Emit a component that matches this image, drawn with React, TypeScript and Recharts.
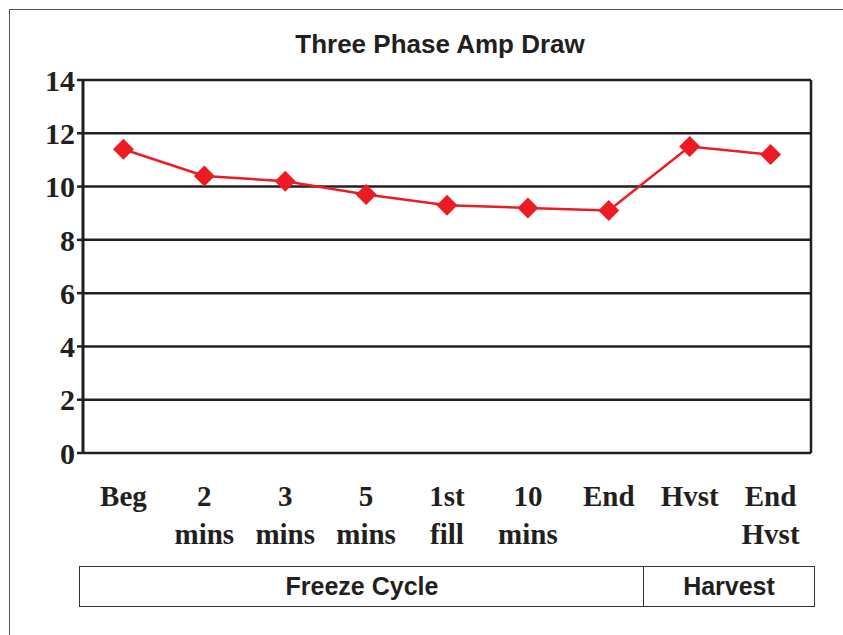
import React from 'react';
import { LineChart, Line, XAxis, YAxis, CartesianGrid } from 'recharts';

const categories = ['Beg', '2 mins', '3 mins', '5 mins', '1st fill', '10 mins', 'End', 'Hvst', 'End Hvst'];
const labelLines: string[][] = [['Beg'], ['2', 'mins'], ['3', 'mins'], ['5', 'mins'], ['1st', 'fill'], ['10', 'mins'], ['End'], ['Hvst'], ['End', 'Hvst']];
const amps = [11.4, 10.4, 10.2, 9.7, 9.3, 9.2, 9.1, 11.5, 11.2];
const yTicks = [0, 2, 4, 6, 8, 10, 12, 14];
const boundaryTicks = [0, 1, 2, 3, 4, 5, 6, 7, 8, 9];
const groupNames = ['Freeze Cycle', 'Harvest'];

const data = categories.map((c, i) => ({ name: c, amps: amps[i] }));

const INK = '#231f20';
const RED = '#ed1c24';
const SERIF = '"Liberation Serif", "Times New Roman", serif';
const SANS = '"Liberation Sans", Arial, sans-serif';

const CatTick = (props: any) => {
  const { x, y, index } = props;
  const lines = labelLines[index] || [];
  return (
    <g>
      {lines.map((t, k) => (
        <text key={k} x={x} y={y + 53 + k * 38} textAnchor="middle" fontFamily={SERIF} fontWeight="bold" fontSize={29} fill={INK}>
          {t}
        </text>
      ))}
    </g>
  );
};

const Diamond = (props: any) => {
  const { cx, cy, index } = props;
  if (cx == null || cy == null) return <g key={index} />;
  const r = 10.5;
  return <polygon key={index} points={`${cx},${cy - r} ${cx + r},${cy} ${cx},${cy + r} ${cx - r},${cy}`} fill={RED} stroke="none" />;
};

const boxText: React.CSSProperties = { display: 'flex', alignItems: 'center', justifyContent: 'center', fontFamily: SANS, fontWeight: 'bold', fontSize: 25, color: INK, boxSizing: 'border-box' };

export default function App() {
  return (
    <div style={{ position: 'absolute', left: 0, top: 0, width: 843, height: 635, background: '#fff', overflow: 'hidden' }}>
      <div style={{ position: 'absolute', left: 9, top: 9, width: 900, height: 700, borderLeft: '1.5px solid #555', borderTop: '1.5px solid #555' }} />
      <div style={{ position: 'absolute', left: 0, width: 880, top: 29, textAlign: 'center', fontFamily: SANS, fontWeight: 'bold', fontSize: 26, color: INK, lineHeight: '30px' }}>
        Three Phase Amp Draw
      </div>
      <div style={{ position: 'absolute', left: 0, top: 0 }}>
        <LineChart width={843} height={635} data={data} margin={{ top: 80, right: 31, left: 0, bottom: 82 }}>
          <CartesianGrid xAxisId="cat" yAxisId="left" horizontal vertical={false} stroke={INK} strokeWidth={2.5} strokeDasharray="" />
          <XAxis xAxisId="ticks" type="number" domain={[0, 9]} ticks={boundaryTicks} allowDataOverflow tick={false} tickSize={9} height={0} axisLine={{ stroke: INK, strokeWidth: 3 }} tickLine={{ stroke: INK, strokeWidth: 2.5 }} />
          <XAxis xAxisId="cat" dataKey="name" scale="band" type="category" height={100} axisLine={false} tickLine={false} tickSize={0} tickMargin={0} tick={<CatTick />} interval={0} />
          <YAxis yAxisId="left" width={83} domain={[0, 14]} ticks={yTicks} interval={0} axisLine={{ stroke: INK, strokeWidth: 3 }} tickLine={{ stroke: INK, strokeWidth: 2.5 }} tickSize={6} tickMargin={2} tick={{ fontFamily: SERIF, fontWeight: 'bold', fontSize: 30, fill: INK }} />
          <YAxis yAxisId="right" orientation="right" width={1} domain={[0, 14]} tick={false} tickLine={false} axisLine={{ stroke: INK, strokeWidth: 2.5 }} />
          <Line xAxisId="cat" yAxisId="left" type="linear" dataKey="amps" stroke={RED} strokeWidth={2.5} dot={<Diamond />} activeDot={false} isAnimationActive={false} />
        </LineChart>
      </div>
      <div style={{ ...boxText, position: 'absolute', left: 79, top: 566, width: 565, height: 41, border: '1.5px solid #333', borderRight: 'none' }}>
        {groupNames[0]}
      </div>
      <div style={{ ...boxText, position: 'absolute', left: 643, top: 566, width: 172, height: 41, border: '1.5px solid #333' }}>
        {groupNames[1]}
      </div>
    </div>
  );
}
